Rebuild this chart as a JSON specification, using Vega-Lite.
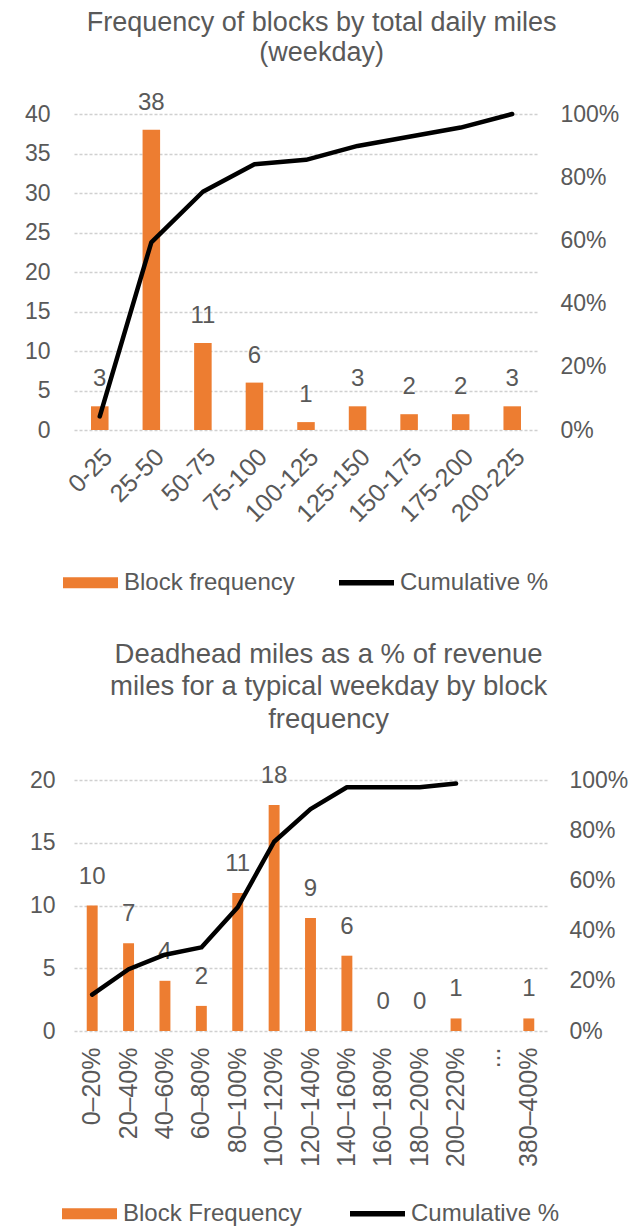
{
  "$schema": "https://vega.github.io/schema/vega-lite/v6.json",
  "background": "white",
  "padding": {"left": 24, "top": 8, "right": 5, "bottom": 0},
  "spacing": 45,
  "align": "none",
  "config": {
    "view": {"stroke": null},
    "font": "Liberation Sans",
    "axis": {
      "labelFont": "Liberation Sans",
      "labelFontSize": 23,
      "labelColor": "#595959",
      "domain": false,
      "ticks": false,
      "gridColor": "#D0D0D0",
      "gridWidth": 1.5,
      "gridDash": [3, 2],
      "labelOverlap": false,
      "title": null
    },
    "axisX": {"labelFontSize": 25},
    "title": {
      "font": "Liberation Sans",
      "fontWeight": "normal",
      "color": "#595959",
      "anchor": "middle",
      "frame": "bounds"
    },
    "legend": {
      "orient": "bottom",
      "direction": "horizontal",
      "title": null,
      "labelFont": "Liberation Sans",
      "labelFontSize": 24,
      "labelColor": "#595959",
      "labelLimit": 400,
      "symbolSize": 3025,
      "symbolType": "M-1,-0.22H1V0.22H-1Z",
      "symbolStrokeWidth": 0,
      "columnPadding": 44,
      "labelOffset": 6,
      "layout": {"bottom": {"anchor": "middle"}}
    }
  },
  "resolve": {"scale": {"color": "independent"}},
  "vconcat": [
    {
      "title": {
        "text": ["Frequency of blocks by total daily miles", "(weekday)"],
        "fontSize": 27,
        "lineHeight": 30,
        "offset": 24
      },
      "width": 464,
      "height": 316,
      "data": {
        "values": [
          {"bin": "0-25", "freq": 3, "cum": 0.043},
          {"bin": "25-50", "freq": 38, "cum": 0.594},
          {"bin": "50-75", "freq": 11, "cum": 0.754},
          {"bin": "75-100", "freq": 6, "cum": 0.841},
          {"bin": "100-125", "freq": 1, "cum": 0.855},
          {"bin": "125-150", "freq": 3, "cum": 0.899},
          {"bin": "150-175", "freq": 2, "cum": 0.928},
          {"bin": "175-200", "freq": 2, "cum": 0.957},
          {"bin": "200-225", "freq": 3, "cum": 1.0}
        ]
      },
      "encoding": {
        "x": {
          "field": "bin",
          "type": "nominal",
          "sort": null,
          "scale": {
            "domain": ["0-25", "25-50", "50-75", "75-100", "100-125", "125-150", "150-175", "175-200", "200-225"],
            "paddingInner": 0.66,
            "paddingOuter": 0.33
          },
          "axis": {"labelAngle": -45, "labelPadding": 14, "grid": false}
        }
      },
      "layer": [
        {
          "encoding": {
            "y": {
              "field": "freq",
              "type": "quantitative",
              "scale": {"domain": [0, 40]},
              "axis": {"values": [0, 5, 10, 15, 20, 25, 30, 35, 40], "grid": true, "labelPadding": 24}
            }
          },
          "layer": [
            {
              "mark": {"type": "bar"},
              "encoding": {
                "color": {
                  "datum": "Block frequency",
                  "scale": {"domain": ["Block frequency", "Cumulative %"], "range": ["#ED7D31", "#000000"]},
                  "legend": {
                    "offset": 28,
                    "columnPadding": 44,
                    "encode": {
                      "symbols": {
                        "update": {
                          "shape": {"signal": "datum.value === 'Cumulative %' ? 'M-1,-0.1H1V0.1H-1Z' : 'M-1,-0.2H1V0.2H-1Z'"},
                          "fill": {"signal": "datum.value === 'Cumulative %' ? '#000000' : '#ED7D31'"},
                          "fillOpacity": {"value": 1},
                          "opacity": {"value": 1},
                          "strokeWidth": {"value": 0}
                        }
                      }
                    }
                  }
                }
              }
            },
            {
              "mark": {"type": "text", "dy": -27, "fontSize": 24, "color": "#595959", "font": "Liberation Sans"},
              "encoding": {
                "text": {"field": "freq", "type": "quantitative"}
              }
            }
          ]
        },
        {
          "mark": {"type": "line", "strokeWidth": 4.5, "strokeJoin": "round", "strokeCap": "round"},
          "encoding": {
            "y": {
              "field": "cum",
              "type": "quantitative",
              "scale": {"domain": [0, 1]},
              "axis": {"orient": "right", "format": ".0%", "values": [0, 0.2, 0.4, 0.6, 0.8, 1], "grid": false, "labelPadding": 22}
            },
            "color": {"datum": "Cumulative %"}
          }
        }
      ],
      "resolve": {"scale": {"y": "independent"}}
    },
    {
      "title": {
        "text": ["Deadhead miles as a % of revenue", "miles for a typical weekday by block", "frequency"],
        "fontSize": 27.5,
        "lineHeight": 32.5,
        "offset": 31
      },
      "width": 473,
      "height": 251,
      "data": {
        "values": [
          {"bin": "0–20%", "freq": 10, "cum": 0.145},
          {"bin": "20–40%", "freq": 7, "cum": 0.246},
          {"bin": "40–60%", "freq": 4, "cum": 0.304},
          {"bin": "60–80%", "freq": 2, "cum": 0.333},
          {"bin": "80–100%", "freq": 11, "cum": 0.493},
          {"bin": "100–120%", "freq": 18, "cum": 0.754},
          {"bin": "120–140%", "freq": 9, "cum": 0.884},
          {"bin": "140–160%", "freq": 6, "cum": 0.971},
          {"bin": "160–180%", "freq": 0, "cum": 0.971},
          {"bin": "180–200%", "freq": 0, "cum": 0.971},
          {"bin": "200–220%", "freq": 1, "cum": 0.986},
          {"bin": "...", "freq": null, "cum": null},
          {"bin": "380–400%", "freq": 1, "cum": null}
        ]
      },
      "encoding": {
        "x": {
          "field": "bin",
          "type": "nominal",
          "sort": null,
          "scale": {
            "domain": ["0–20%", "20–40%", "40–60%", "60–80%", "80–100%", "100–120%", "120–140%", "140–160%", "160–180%", "180–200%", "200–220%", "...", "380–400%"],
            "paddingInner": 0.7,
            "paddingOuter": 0.35
          },
          "axis": {"labelAngle": -90, "labelPadding": 16, "grid": false}
        }
      },
      "layer": [
        {
          "encoding": {
            "y": {
              "field": "freq",
              "type": "quantitative",
              "scale": {"domain": [0, 20]},
              "axis": {"values": [0, 5, 10, 15, 20], "grid": true, "labelPadding": 19}
            }
          },
          "layer": [
            {
              "mark": {"type": "bar"},
              "encoding": {
                "color": {
                  "datum": "Block Frequency",
                  "scale": {"domain": ["Block Frequency", "Cumulative %"], "range": ["#ED7D31", "#000000"]},
                  "legend": {
                    "offset": 19,
                    "columnPadding": 48,
                    "encode": {
                      "symbols": {
                        "update": {
                          "shape": {"signal": "datum.value === 'Cumulative %' ? 'M-1,-0.1H1V0.1H-1Z' : 'M-1,-0.2H1V0.2H-1Z'"},
                          "fill": {"signal": "datum.value === 'Cumulative %' ? '#000000' : '#ED7D31'"},
                          "fillOpacity": {"value": 1},
                          "opacity": {"value": 1},
                          "strokeWidth": {"value": 0}
                        }
                      }
                    }
                  }
                }
              }
            },
            {
              "mark": {"type": "text", "dy": -29, "fontSize": 24, "color": "#595959", "font": "Liberation Sans"},
              "encoding": {
                "text": {"field": "freq", "type": "quantitative"}
              }
            }
          ]
        },
        {
          "mark": {"type": "line", "strokeWidth": 4.5, "strokeJoin": "round", "strokeCap": "round"},
          "encoding": {
            "y": {
              "field": "cum",
              "type": "quantitative",
              "scale": {"domain": [0, 1]},
              "axis": {"orient": "right", "format": ".0%", "values": [0, 0.2, 0.4, 0.6, 0.8, 1], "grid": false, "labelPadding": 22}
            },
            "color": {"datum": "Cumulative %"}
          }
        }
      ],
      "resolve": {"scale": {"y": "independent"}}
    }
  ]
}
